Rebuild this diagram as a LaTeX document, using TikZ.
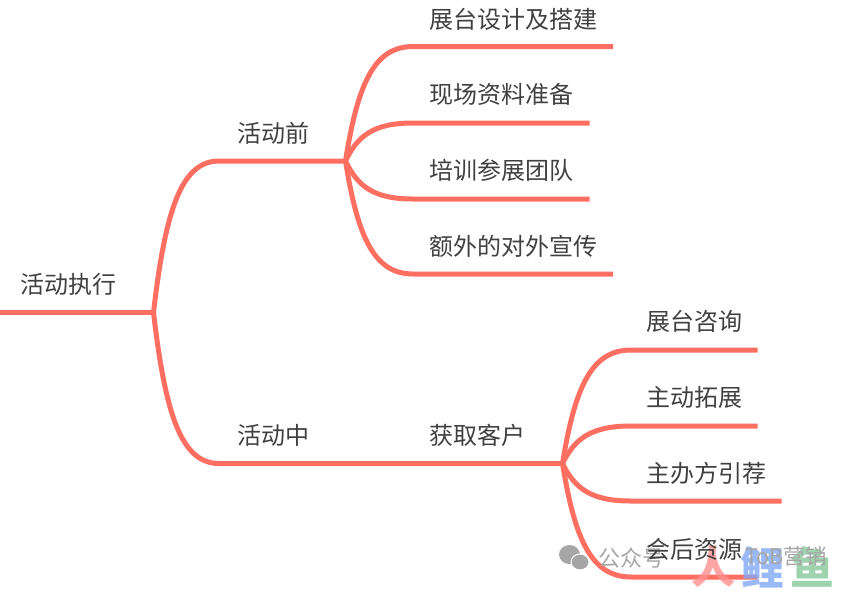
\documentclass[tikz,border=0pt]{standalone}
\usepackage{fontspec}
\setmainfont{Noto Sans CJK SC}
\usetikzlibrary{calc}
\definecolor{branchred}{HTML}{FF6F61}
\definecolor{labelgrey}{HTML}{404040}
\definecolor{markgrey}{HTML}{A6A6A6}
\definecolor{fishred}{HTML}{FF8F8F}
\definecolor{fishblue}{HTML}{7FA9F5}
\definecolor{fishgreen}{HTML}{86C899}
\tikzset{
  limb/.style={draw=branchred,line width=5pt,line cap=butt,line join=round},
  lbl/.style={anchor=base west,inner sep=0pt,text=labelgrey,font=\fontsize{24}{26}\selectfont},
  markword/.style={anchor=base west,inner sep=0pt,text=markgrey,font=\fontsize{22}{26}\selectfont},
  bigmark/.style={anchor=center,inner sep=0pt,font=\fontsize{44}{48}\selectfont\bfseries,opacity=.8},
}
\newcommand{\limbto}[3]{%
  \draw[limb] (#1) let \p1=(#1),\p2=(#2) in
    .. controls (\x1+0.18*\x2-0.18*\x1,\y1+0.67*\y2-0.67*\y1) and (\x1+0.42*\x2-0.42*\x1,\y2) .. (#2) -- (#3);}
\begin{document}
\begin{tikzpicture}[x=1pt,y=-1pt]
\useasboundingbox (0,0) rectangle (858,592);
% junctions and free ends
\coordinate (rootstart) at (0,312.5);
\coordinate (j1) at (153.5,312.5);
\coordinate (before) at (219,161);
\coordinate (during) at (219,463.5);
\coordinate (j2) at (345.5,161);
\coordinate (j3) at (562.5,463.5);
\coordinate (a1) at (413,46.5); \coordinate (a1e) at (613,46.5);
\coordinate (a2) at (413,123); \coordinate (a2e) at (589.5,123);
\coordinate (a3) at (413,199); \coordinate (a3e) at (589.5,199);
\coordinate (a4) at (413,274); \coordinate (a4e) at (613,274);
\coordinate (b1) at (631,350); \coordinate (b1e) at (757.5,350);
\coordinate (b2) at (631,426); \coordinate (b2e) at (757.5,426);
\coordinate (b3) at (631,501); \coordinate (b3e) at (781.5,501);
\coordinate (b4) at (631,577); \coordinate (b4e) at (757.5,577);
% connectors
\draw[limb,line cap=round] (rootstart) -- (j1);
\limbto{j1}{before}{j2}
\limbto{j1}{during}{j3}
\limbto{j2}{a1}{a1e}
\limbto{j2}{a2}{a2e}
\limbto{j2}{a3}{a3e}
\limbto{j2}{a4}{a4e}
\limbto{j3}{b1}{b1e}
\limbto{j3}{b2}{b2e}
\limbto{j3}{b3}{b3e}
\limbto{j3}{b4}{b4e}
% watermark
\fill[markgrey] (569.5pt,-554.5pt) ellipse [x radius=10.5pt,y radius=9.5pt];
\fill[markgrey,draw=white,line width=1pt] (580pt,-562pt) ellipse [x radius=9pt,y radius=8pt];
\node[markword] (wgzh) at (598,566) {公众号};
\node[bigmark,text=fishred] (wren) at (713,567) {人};
\node[bigmark,text=fishblue] (wli) at (762,567) {鲤};
\node[bigmark,text=fishgreen] (wyu) at (812,567) {鱼};
\node[markword,font=\fontsize{21.5}{26}\selectfont] (wtob) at (745,564) {ToB营销};
% labels
\node[lbl] (troot) at (20,293) {活动执行};
\node[lbl] (tbefore) at (237,142) {活动前};
\node[lbl] (tduring) at (237,444) {活动中};
\node[lbl] (tget) at (429,444) {获取客户};
\node[lbl] (ta1) at (429,28) {展台设计及搭建};
\node[lbl] (ta2) at (429,103) {现场资料准备};
\node[lbl] (ta3) at (429,179) {培训参展团队};
\node[lbl] (ta4) at (429,255) {额外的对外宣传};
\node[lbl] (tb1) at (646,330) {展台咨询};
\node[lbl] (tb2) at (646,406) {主动拓展};
\node[lbl] (tb3) at (646,482) {主办方引荐};
\node[lbl] (tb4) at (646,558) {会后资源};
\end{tikzpicture}
\end{document}
